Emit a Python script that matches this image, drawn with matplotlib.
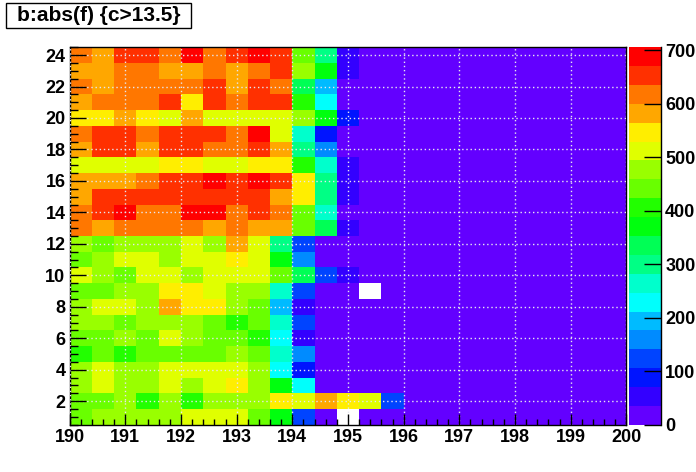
import colorsys
import numpy as np
import matplotlib
matplotlib.use("Agg")
import matplotlib.pyplot as plt
from matplotlib.colors import ListedColormap, BoundaryNorm
from matplotlib.patches import Rectangle
from matplotlib.ticker import MultipleLocator

plt.rcParams["font.family"] = ["Liberation Sans", "DejaVu Sans"]
plt.rcParams["font.weight"] = "bold"

title = "b:abs(f) {c>13.5}"
x_min, x_max, n_xbins = 190.0, 200.0, 25
y_min, y_max, n_ybins = 0.5, 24.5, 24
z_max = 706
n_levels = 20
z_ticks = [0, 100, 200, 300, 400, 500, 600, 700]
x_ticks = [190, 191, 192, 193, 194, 195, 196, 197, 198, 199, 200]
y_ticks = [2, 4, 6, 8, 10, 12, 14, 16, 18, 20, 22, 24]

nan = float("nan")
# counts per cell, row for y = 1 ... 24, columns x = 190.0 ... 199.6 (bin width 0.4)
row_01 = [441, 477, 477, 477, 477, 512, 512, 512, 441, 371, 124, 15, nan, 15, 15, 15, 15, 15, 15, 15, 15, 15, 15, 15, 15]
row_02 = [441, 441, 477, 406, 477, 406, 477, 477, 477, 547, 512, 582, 547, 512, 124, 15, 15, 15, 15, 15, 15, 15, 15, 15, 15]
row_03 = [477, 512, 477, 477, 512, 477, 512, 547, 477, 371, 229, 15, 15, 15, 15, 15, 15, 15, 15, 15, 15, 15, 15, 15, 15]
row_04 = [477, 512, 477, 477, 512, 512, 512, 512, 477, 229, 88, 15, 15, 15, 15, 15, 15, 15, 15, 15, 15, 15, 15, 15, 15]
row_05 = [406, 441, 406, 441, 441, 441, 441, 477, 441, 265, 159, 15, 15, 15, 15, 15, 15, 15, 15, 15, 15, 15, 15, 15, 15]
row_06 = [441, 441, 477, 441, 512, 477, 441, 441, 406, 229, 53, 15, 15, 15, 15, 15, 15, 15, 15, 15, 15, 15, 15, 15, 15]
row_07 = [477, 477, 441, 477, 477, 477, 441, 406, 441, 265, 124, 15, 15, 15, 15, 15, 15, 15, 15, 15, 15, 15, 15, 15, 15]
row_08 = [477, 512, 512, 477, 582, 547, 547, 477, 441, 194, 53, 15, 15, 15, 15, 15, 15, 15, 15, 15, 15, 15, 15, 15, 15]
row_09 = [441, 441, 477, 477, 547, 547, 512, 477, 477, 265, 124, 15, 15, nan, 15, 15, 15, 15, 15, 15, 15, 15, 15, 15, 15]
row_10 = [512, 477, 441, 512, 512, 477, 512, 512, 512, 441, 335, 124, 53, 15, 15, 15, 15, 15, 15, 15, 15, 15, 15, 15, 15]
row_11 = [441, 477, 512, 512, 477, 512, 512, 547, 512, 371, 159, 15, 15, 15, 15, 15, 15, 15, 15, 15, 15, 15, 15, 15, 15]
row_12 = [477, 441, 477, 477, 477, 512, 477, 582, 512, 300, 124, 15, 15, 15, 15, 15, 15, 15, 15, 15, 15, 15, 15, 15, 15]
row_13 = [618, 582, 618, 618, 618, 618, 582, 618, 582, 582, 441, 335, 53, 15, 15, 15, 15, 15, 15, 15, 15, 15, 15, 15, 15]
row_14 = [618, 653, 688, 618, 618, 688, 688, 618, 653, 618, 441, 265, 15, 15, 15, 15, 15, 15, 15, 15, 15, 15, 15, 15, 15]
row_15 = [582, 653, 653, 653, 653, 653, 653, 653, 653, 582, 547, 300, 53, 15, 15, 15, 15, 15, 15, 15, 15, 15, 15, 15, 15]
row_16 = [582, 582, 582, 618, 653, 653, 688, 653, 688, 653, 547, 300, 53, 15, 15, 15, 15, 15, 15, 15, 15, 15, 15, 15, 15]
row_17 = [512, 512, 512, 512, 547, 547, 512, 512, 547, 547, 406, 265, 53, 15, 15, 15, 15, 15, 15, 15, 15, 15, 15, 15, 15]
row_18 = [582, 653, 653, 582, 653, 653, 618, 618, 653, 582, 300, 159, 15, 15, 15, 15, 15, 15, 15, 15, 15, 15, 15, 15, 15]
row_19 = [618, 653, 653, 618, 653, 653, 653, 618, 688, 512, 265, 88, 15, 15, 15, 15, 15, 15, 15, 15, 15, 15, 15, 15, 15]
row_20 = [547, 547, 582, 547, 512, 582, 512, 512, 512, 512, 477, 371, 88, 15, 15, 15, 15, 15, 15, 15, 15, 15, 15, 15, 15]
row_21 = [582, 618, 618, 618, 653, 547, 653, 618, 653, 653, 406, 229, 15, 15, 15, 15, 15, 15, 15, 15, 15, 15, 15, 15, 15]
row_22 = [618, 582, 618, 618, 618, 618, 653, 582, 653, 618, 335, 194, 15, 15, 15, 15, 15, 15, 15, 15, 15, 15, 15, 15, 15]
row_23 = [582, 582, 618, 618, 582, 582, 618, 582, 618, 653, 477, 371, 53, 15, 15, 15, 15, 15, 15, 15, 15, 15, 15, 15, 15]
row_24 = [618, 582, 653, 653, 618, 688, 618, 653, 688, 653, 441, 300, 53, 15, 15, 15, 15, 15, 15, 15, 15, 15, 15, 15, 15]

rows = [row_01, row_02, row_03, row_04, row_05, row_06, row_07, row_08, row_09, row_10, row_11, row_12,
        row_13, row_14, row_15, row_16, row_17, row_18, row_19, row_20, row_21, row_22, row_23, row_24]
z = np.ma.masked_invalid(np.array(rows, dtype=float))

# ROOT "pretty" palette (50 colours, HLS hue 280 -> 0), sampled for 20 contour levels
n_pal = 50
pal_idx = [int((k + 0.99) * n_pal / n_levels) for k in range(n_levels)]
pal_cols = [colorsys.hls_to_rgb((280 - (i + 1) * (280 / n_pal)) / 360.0, 0.5, 1.0) for i in pal_idx]
cmap = ListedColormap(pal_cols)
cmap.set_bad("white")
bounds = np.linspace(0, z_max, n_levels + 1)
norm = BoundaryNorm(bounds, n_levels)

W, H = 696, 472
fig = plt.figure(figsize=(W / 100, H / 100), dpi=100)
ax = fig.add_axes([0.1, 0.1, 0.8, 0.8])
x_edges = np.linspace(x_min, x_max, n_xbins + 1)
y_edges = np.linspace(y_min, y_max, n_ybins + 1)
mesh = ax.pcolormesh(x_edges, y_edges, z, cmap=cmap, norm=norm, shading="flat")
ax.set_xlim(x_min, x_max)
ax.set_ylim(y_min, y_max)

ax.set_xticks(x_ticks)
ax.set_yticks(y_ticks)
ax.xaxis.set_minor_locator(MultipleLocator(0.2))
ax.yaxis.set_minor_locator(MultipleLocator(0.5))
ax.tick_params(axis="both", which="both", direction="in", top=False, right=False, width=1, color="black")
ax.tick_params(axis="x", which="major", length=8, labelsize=13, pad=3)
ax.tick_params(axis="x", which="minor", length=4)
ax.tick_params(axis="y", which="major", length=11.5, labelsize=13, pad=3)
ax.tick_params(axis="y", which="minor", length=5.8)
for lab in ax.get_xticklabels() + ax.get_yticklabels():
    lab.set_fontweight("bold")
ax.set_axisbelow(False)
ax.grid(True, which="major", color="#e6e6f0", linestyle=(0, (1, 2)), linewidth=1)
for s in ax.spines.values():
    s.set_linewidth(1)

cax = fig.add_axes([629 / W, 0.1, 32 / W, 0.8])
cb = fig.colorbar(mesh, cax=cax, ticks=z_ticks)
cb.outline.set_visible(False)
cax.plot([1, 1], [0, 1], transform=cax.transAxes, color="black", lw=1, clip_on=False)
cax.yaxis.set_ticks_position("right")
cax.tick_params(axis="y", which="major", direction="in", length=12, width=1, labelsize=13, pad=3)
cax.minorticks_off()
for lab in cax.get_yticklabels():
    lab.set_fontweight("bold")

fig.add_artist(Rectangle((6.3 / W, 1 - 28 / H), (191 - 6.3) / W, 25.3 / H, transform=fig.transFigure,
                         facecolor="white", edgecolor="black", lw=1))
fig.text(99 / W, 1 - 15.5 / H, title, ha="center", va="center", fontsize=15, fontweight="bold")

fig.savefig("out.png", dpi=100)
